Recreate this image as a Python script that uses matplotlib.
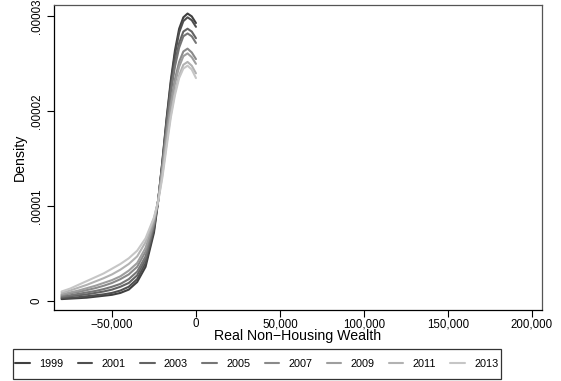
import matplotlib
matplotlib.use("Agg")
import matplotlib.pyplot as plt
from matplotlib.patches import Rectangle
from matplotlib.ticker import FuncFormatter

plt.rcParams['font.family'] = ['Liberation Sans', 'DejaVu Sans']

# Kernel density estimates of real non-housing wealth by survey year
wealth = [-80000, -75000, -70000, -65000, -60000, -55000, -50000, -45000,
          -40000, -35000, -30000, -25000, -22500, -20000, -17500, -15000,
          -12500, -10000, -7500, -5000, -2500, 0]

years = ["1999", "2001", "2003", "2005", "2007", "2009", "2011", "2013"]

# density values in units of 1e-5
d1999 = [0.02, 0.025, 0.03, 0.035, 0.045, 0.055, 0.065, 0.085, 0.12, 0.20, 0.36, 0.72,
         1.05, 1.47, 1.92, 2.32, 2.64, 2.87, 2.99, 3.03, 3.00, 2.93]
d2001 = [0.03, 0.035, 0.04, 0.05, 0.06, 0.07, 0.085, 0.11, 0.15, 0.23, 0.40, 0.75,
         1.06, 1.46, 1.90, 2.29, 2.60, 2.83, 2.95, 2.99, 2.96, 2.89]
d2003 = [0.04, 0.05, 0.06, 0.07, 0.085, 0.10, 0.12, 0.15, 0.19, 0.27, 0.44, 0.78,
         1.06, 1.44, 1.86, 2.23, 2.51, 2.72, 2.84, 2.87, 2.84, 2.77]
d2005 = [0.05, 0.06, 0.075, 0.09, 0.105, 0.125, 0.15, 0.18, 0.23, 0.31, 0.47, 0.80,
         1.06, 1.43, 1.84, 2.20, 2.47, 2.67, 2.79, 2.82, 2.79, 2.72]
d2007 = [0.06, 0.08, 0.095, 0.115, 0.135, 0.16, 0.19, 0.23, 0.28, 0.36, 0.52, 0.82,
         1.06, 1.40, 1.77, 2.09, 2.34, 2.52, 2.63, 2.66, 2.62, 2.55]
d2009 = [0.07, 0.09, 0.11, 0.135, 0.16, 0.19, 0.22, 0.26, 0.32, 0.40, 0.56, 0.84,
         1.06, 1.39, 1.74, 2.05, 2.29, 2.47, 2.58, 2.61, 2.57, 2.50]
d2011 = [0.085, 0.11, 0.14, 0.17, 0.205, 0.24, 0.28, 0.33, 0.39, 0.47, 0.62, 0.87,
         1.05, 1.33, 1.66, 1.96, 2.20, 2.38, 2.49, 2.52, 2.48, 2.40]
d2013 = [0.10, 0.13, 0.17, 0.21, 0.25, 0.29, 0.34, 0.39, 0.45, 0.53, 0.66, 0.88,
         1.05, 1.30, 1.62, 1.93, 2.17, 2.35, 2.45, 2.48, 2.44, 2.35]

series = [d1999, d2001, d2003, d2005, d2007, d2009, d2011, d2013]
colors = ["#3f3f3f", "#4f4f4f", "#636363", "#767676",
          "#8a8a8a", "#9e9e9e", "#b2b2b2", "#c6c6c6"]

xticks = [-50000, 0, 50000, 100000, 150000, 200000]
yticks = [0, 0.00001, 0.00002, 0.00003]
ytick_labels = ["0", ".00001", ".00002", ".00003"]

W, H = 561, 381
fig = plt.figure(figsize=(W / 100, H / 100), dpi=100)
ax = fig.add_axes([54 / W, 1 - 310 / H, 488 / W, 305 / H])

for yr, vals, c in zip(years, series, colors):
    ax.plot(wealth, [v * 1e-5 for v in vals], color=c, lw=1.5, label=yr,
            solid_capstyle='round')

ax.set_xlim(-84500, 206000)
ax.set_ylim(-0.00000095, 0.0000312)
ax.set_xticks(xticks)
ax.xaxis.set_major_formatter(FuncFormatter(
    lambda v, p: f"{int(v):,}".replace("-", "\u2212")))
ax.set_yticks(yticks)
ax.set_yticklabels(ytick_labels, rotation=90, va='center')
ax.tick_params(axis='both', direction='out', length=5, width=0.8,
               labelsize=8.3, colors='black')
ax.tick_params(axis='x', pad=1)
ax.tick_params(axis='y', pad=3)

for side in ['left', 'bottom']:
    ax.spines[side].set_color('black')
    ax.spines[side].set_linewidth(0.9)
for side in ['top', 'right']:
    ax.spines[side].set_color('#555555')
    ax.spines[side].set_linewidth(0.9)

ax.set_xlabel("Real Non\u2212Housing Wealth", fontsize=10.2, labelpad=-1)
ax.set_ylabel("Density", fontsize=10.2, labelpad=3)

# legend box outline
fig.patches.append(Rectangle((13 / W, 1 - 379 / H), 488 / W, 30 / H,
                             transform=fig.transFigure, fill=False,
                             edgecolor='#333333', linewidth=0.9))
fig.legend(loc='center', bbox_to_anchor=(257 / W, 1 - 364 / H),
           ncol=8, fontsize=7.8, frameon=False,
           handlelength=1.35, handletextpad=0.85, columnspacing=1.32,
           borderpad=0, borderaxespad=0)

fig.savefig("out.png", dpi=100)
